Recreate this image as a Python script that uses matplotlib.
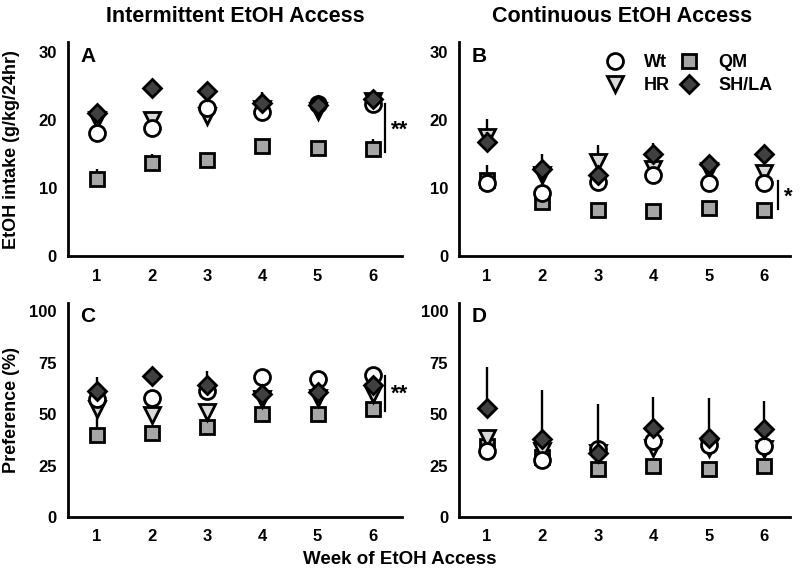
import matplotlib.pyplot as plt
import numpy as np

plt.rcParams['font.family'] = ['Liberation Sans', 'DejaVu Sans']
plt.rcParams['font.weight'] = 'bold'

weeks = np.arange(1, 7)

# Panel A: intermittent access, intake (g/kg/24hr)
a_wt = [18.2, 18.9, 21.8, 21.2, 22.4, 22.4]
a_hr = [20.0, 20.0, 20.6, 21.7, 21.4, 22.8]
a_qm = [11.4, 13.7, 14.1, 16.2, 15.9, 15.8]
a_sh = [21.1, 24.8, 24.3, 22.5, 22.2, 23.2]
a_wt_err = [1.0, 1.0, 1.0, 1.0, 1.0, 1.0]
a_hr_err = [1.0, 1.0, 1.0, 1.5, 1.0, 1.0]
a_qm_err = [1.4, 1.3, 0.8, 0.8, 0.8, 1.5]
a_sh_err = [0.8, 0.6, 0.8, 1.7, 0.6, 0.8]

# Panel B: continuous access, intake
b_wt = [10.8, 9.3, 10.9, 11.9, 10.8, 10.8]
b_hr = [17.6, 12.0, 13.9, 12.9, 12.5, 12.3]
b_qm = [11.2, 8.0, 6.8, 6.6, 7.1, 6.8]
b_sh = [16.8, 12.9, 11.9, 15.0, 13.5, 15.0]
b_wt_err = [0.8, 0.8, 0.8, 0.8, 0.8, 0.8]
b_hr_err = [2.6, 1.0, 2.4, 1.0, 1.0, 1.0]
b_qm_err = [2.2, 0.8, 0.8, 0.7, 0.8, 0.8]
b_sh_err = [1.5, 2.2, 1.0, 1.6, 0.8, 0.8]

# Panel C: intermittent access, preference (%)
c_wt = [57.4, 57.7, 61.4, 68.0, 67.2, 68.8]
c_hr = [52.5, 49.5, 51.1, 57.4, 57.7, 59.8]
c_qm = [39.7, 40.7, 43.5, 50.0, 50.0, 52.5]
c_sh = [61.4, 68.5, 64.2, 59.8, 60.6, 64.2]
c_wt_err = [2, 2, 2, 2, 2, 2]
c_hr_err = [3, 3, 3, 3, 3, 3]
c_qm_err = [11, 2, 2, 2, 2, 2]
c_sh_err = [6.6, 2, 6.5, 3, 3, 3]

# Panel D: continuous access, preference (%)
d_wt = [32.3, 27.9, 33.2, 36.9, 34.8, 34.5]
d_hr = [38.2, 32.0, 31.0, 33.7, 33.5, 32.8]
d_qm = [34.5, 29.2, 23.4, 25.0, 23.4, 24.7]
d_sh = [52.9, 38.1, 30.9, 43.0, 38.6, 42.6]
d_wt_err = [2, 2, 2, 2, 2, 2]
d_hr_err = [3, 3, 3, 3, 3, 3]
d_qm_err = [3, 3, 3, 3, 3, 3]
d_sh_err = [20.0, 23.8, 24.0, 15.2, 19.2, 13.6]

styles = {
    'QM': dict(marker='s', ms=9.5, mfc='#a6a6a6'),
    'HR': dict(marker='v', ms=11, mfc='#d9d9d9'),
    'Wt': dict(marker='o', ms=11.5, mfc='white'),
    'SH/LA': dict(marker='D', ms=9.5, mfc='#404040'),
}


def draw(ax, series, ylim, xlim, yticks, letter):
    handles = {}
    for name, vals, err in series:
        st = styles[name]
        ax.errorbar(weeks, vals, yerr=[np.zeros(6), err], fmt='none',
                    ecolor='black', elinewidth=1.7, capsize=0)
        ln, = ax.plot(weeks, vals, linestyle='none', marker=st['marker'],
                      ms=st['ms'], mfc=st['mfc'], mec='black', mew=2)
        handles[name] = ln
    ax.set_xlim(*xlim)
    ax.set_ylim(*ylim)
    ax.set_xticks(weeks)
    ax.set_yticks(yticks)
    ax.tick_params(length=0, labelsize=12)
    ax.tick_params(axis='x', pad=9)
    ax.tick_params(axis='y', pad=8)
    for s in ['top', 'right']:
        ax.spines[s].set_visible(False)
    for s in ['left', 'bottom']:
        ax.spines[s].set_linewidth(2)
    ax.text(0.06, 0.935, letter, transform=ax.transAxes, fontsize=15,
            fontweight='bold', ha='center', va='center')
    return handles


fig = plt.figure(figsize=(8, 5.77), dpi=100)
axA = fig.add_axes([0.085, 0.556, 0.4175, 0.371])
axB = fig.add_axes([0.574, 0.556, 0.414, 0.371])
axC = fig.add_axes([0.085, 0.104, 0.4175, 0.371])
axD = fig.add_axes([0.574, 0.104, 0.414, 0.371])

draw(axA, [('QM', a_qm, a_qm_err), ('HR', a_hr, a_hr_err),
           ('Wt', a_wt, a_wt_err), ('SH/LA', a_sh, a_sh_err)],
     (0, 31.5), (0.475, 6.53), [0, 10, 20, 30], 'A')
hb = draw(axB, [('QM', b_qm, b_qm_err), ('HR', b_hr, b_hr_err),
                ('Wt', b_wt, b_wt_err), ('SH/LA', b_sh, b_sh_err)],
          (0, 31.5), (0.5, 6.47), [0, 10, 20, 30], 'B')
draw(axC, [('QM', c_qm, c_qm_err), ('HR', c_hr, c_hr_err),
           ('Wt', c_wt, c_wt_err), ('SH/LA', c_sh, c_sh_err)],
     (0, 104), (0.475, 6.53), [0, 25, 50, 75, 100], 'C')
draw(axD, [('QM', d_qm, d_qm_err), ('HR', d_hr, d_hr_err),
           ('Wt', d_wt, d_wt_err), ('SH/LA', d_sh, d_sh_err)],
     (0, 104), (0.5, 6.47), [0, 25, 50, 75, 100], 'D')

axA.set_ylabel('EtOH intake (g/kg/24hr)', fontsize=13, fontweight='bold')
axA.yaxis.set_label_coords(-0.145, 0.5)
axC.set_ylabel('Preference (%)', fontsize=13, fontweight='bold')
axC.yaxis.set_label_coords(-0.145, 0.5)

# significance marks
axA.plot([6.23, 6.23], [15.3, 22.4], color='black', lw=1.6, clip_on=False)
axA.text(6.33, 18.6, '**', fontsize=16, fontweight='bold', va='center', ha='left', clip_on=False)
axB.plot([6.25, 6.25], [7.0, 11.0], color='black', lw=1.6, clip_on=False)
axB.text(6.36, 8.7, '*', fontsize=16, fontweight='bold', va='center', ha='left', clip_on=False)
axC.plot([6.23, 6.23], [51.5, 68.6], color='black', lw=1.6, clip_on=False)
axC.text(6.33, 59.5, '**', fontsize=16, fontweight='bold', va='center', ha='left', clip_on=False)

axB.legend([hb['Wt'], hb['HR'], hb['QM'], hb['SH/LA']],
           ['Wt', 'HR', 'QM', 'SH/LA'], ncol=2, frameon=False,
           prop={'weight': 'bold', 'size': 13}, handlelength=1.0,
           handletextpad=1.1, columnspacing=0.55, labelspacing=0.35,
           loc='upper left', bbox_to_anchor=(0.395, 1.02))

fig.text(235 / 800, 1 - 16 / 577, 'Intermittent EtOH Access', fontsize=15.5,
         fontweight='bold', ha='center', va='center')
fig.text(622 / 800, 1 - 16 / 577, 'Continuous EtOH Access', fontsize=15.5,
         fontweight='bold', ha='center', va='center')
fig.text(0.5, 1 - 560 / 577, 'Week of EtOH Access', fontsize=13.5,
         fontweight='bold', ha='center', va='center')

fig.savefig('out.png', dpi=100)
plt.close(fig)
